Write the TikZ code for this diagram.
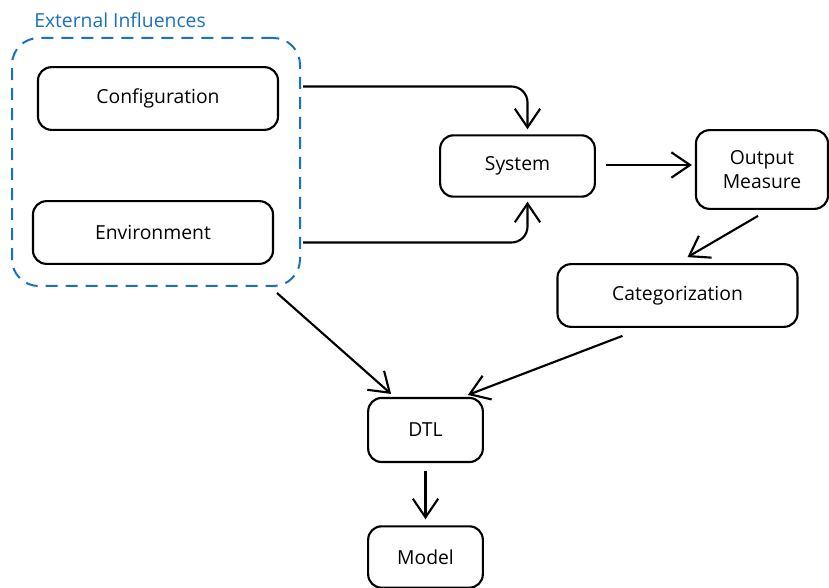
\documentclass[tikz,border=0pt]{standalone}
\usepackage{fontspec}
\setmainfont{Open Sans}
\usepackage{tikz}
\usetikzlibrary{arrows.meta}
\usetikzlibrary{calc}
\usetikzlibrary{shapes}

\definecolor{xblue}{RGB}{25,113,194}

\begin{document}
\begin{tikzpicture}[x=0.75pt,y=0.75pt,yscale=-1,xscale=1,
  box/.style={draw,line width=1.6pt,rounded corners=10pt,fill=white,align=center,inner sep=0pt,font=\fontsize{14.5}{18}\selectfont},
  arr/.style={draw,line width=1.6pt,-{Straight Barb[length=14pt,width=19pt,line width=1.6pt]}}]
\useasboundingbox (0,0) rectangle (829,588);

%Shape: Dashed Group [id:ext]
\node [draw=xblue,line width=1.5pt,dash pattern=on 9pt off 6pt,rounded corners=20pt,minimum width=216pt,minimum height=186pt] (ext) at (156,162) {};
% Text Node
\node [anchor=west,inner sep=0.75pt,text=xblue,font=\fontsize{14.5}{16}\selectfont] (lbl) at (33,20) {External Influences};

%Shape: Rounded Rect [id:conf]
\node [box,minimum width=180pt,minimum height=47pt] (conf) at (158,98.5) {Configuration};
%Shape: Rounded Rect [id:env]
\node [box,minimum width=180pt,minimum height=47pt] (env) at (153,232.5) {Environment};
%Shape: Rounded Rect [id:sys]
\node [box,minimum width=116pt,minimum height=46pt] (sys) at (517.5,166) {System};
%Shape: Rounded Rect [id:out]
\node [box,minimum width=99pt,minimum height=59pt] (out) at (762,169.5) {Output\\Measure};
%Shape: Rounded Rect [id:cat]
\node [box,minimum width=180pt,minimum height=47pt] (cat) at (677.5,295.5) {Categorization};
%Shape: Rounded Rect [id:dtl]
\node [box,minimum width=86pt,minimum height=48pt] (dtl) at (425.5,430) {DTL};
%Shape: Rounded Rect [id:mod]
\node [box,minimum width=86pt,minimum height=46pt] (mod) at (425.5,557) {Model};

%Connectors
\draw [arr,rounded corners=12pt] ($(ext.east |- conf.east)+(2,-12)$) -| ($(sys.north)+(10,-5)$);
\draw [arr,rounded corners=12pt] ($(ext.east |- env.east)+(2,10)$) -| ($(sys.south)+(10,4)$);
\draw [arr] ($(sys.east)+(10,-1)$) -- ($(sys.east -| out.west)+(-3,-1)$);
\draw [arr] ($(out.south)+(-4,6)$) -- ($(cat.north)+(10,-6)$);
\draw [arr] ($(ext.south east)+(-24,6)$) -- ($(dtl.north west)+(24,-3)$);
\draw [arr] ($(cat.south west)+(66,8)$) -- ($(dtl.north east)+(-16,-2)$);
\draw [arr] ($(dtl.south)+(0,8)$) -- ($(mod.north)+(0,-6)$);

\end{tikzpicture}
\end{document}
